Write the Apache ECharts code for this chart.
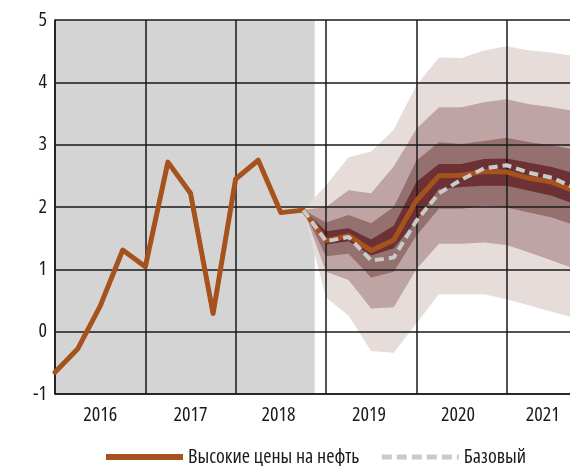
<!DOCTYPE html>
<html>
<head>
<meta charset="utf-8">
<script src="https://cdn.jsdelivr.net/npm/echarts@6/dist/echarts.min.js"></script>
<style>
  html, body { margin: 0; padding: 0; background: #fff; overflow: hidden; }
  /* chart is a bit wider than the window: the last year is cut off like in the original */
  #chart { width: 600px; height: 466px; }
</style>
</head>
<body>
<div id="chart"></div>
<script>
// years on the x axis (4 quarters each)
const years = ['2016', '2017', '2018', '2019', '2020', '2021'];

// actual data, 2016Q1 .. 2018Q4
const actual = [-0.65, -0.28, 0.41, 1.31, 1.04, 2.72, 2.22, 0.29, 2.45, 2.75, 1.91, 1.95];

// forecasts, starting from the last actual quarter
const highOil = [1.95, 1.46, 1.54, 1.30, 1.47, 2.10, 2.50, 2.51, 2.57, 2.56, 2.46, 2.40, 2.26];
const baseline = [1.95, 1.45, 1.52, 1.14, 1.19, 1.78, 2.22, 2.44, 2.62, 2.67, 2.55, 2.47, 2.31];

// fan chart bands (low / high), same quarters as the forecasts
const outerLo = [1.95, 0.55, 0.26, -0.31, -0.34, 0.13, 0.60, 0.60, 0.60, 0.52, 0.42, 0.32, 0.22];
const outerHi = [1.95, 2.35, 2.80, 2.89, 3.24, 3.95, 4.40, 4.39, 4.51, 4.58, 4.51, 4.48, 4.42];
const wideLo = [1.95, 0.96, 0.83, 0.37, 0.39, 1.00, 1.41, 1.41, 1.43, 1.39, 1.27, 1.14, 1.01];
const wideHi = [1.95, 2.00, 2.27, 2.22, 2.65, 3.25, 3.60, 3.60, 3.68, 3.73, 3.65, 3.60, 3.54];
const midLo = [1.95, 1.21, 1.25, 0.87, 0.96, 1.54, 1.97, 1.97, 2.02, 1.99, 1.91, 1.83, 1.71];
const midHi = [1.95, 1.75, 1.87, 1.74, 2.00, 2.74, 3.04, 3.01, 3.06, 3.11, 3.04, 2.99, 2.92];
const innerLo = [1.95, 1.40, 1.45, 1.22, 1.34, 1.78, 2.29, 2.32, 2.34, 2.34, 2.26, 2.18, 2.05];
const innerHi = [1.95, 1.61, 1.66, 1.48, 1.70, 2.40, 2.69, 2.69, 2.77, 2.78, 2.71, 2.64, 2.54];

const forecastStart = actual.length - 1;
const font = '"Open Sans", sans-serif';
const textColor = '#1a1a1a';

const toPoints = (arr, offset) => arr.map((v, i) => [i + offset, v]);

const bands = [
  { lo: outerLo, hi: outerHi, color: '#e6dcd9' },
  { lo: wideLo, hi: wideHi, color: '#bea4a4' },
  { lo: midLo, hi: midHi, color: '#94706f' },
  { lo: innerLo, hi: innerHi, color: '#6b3135' }
];

// year labels sit in the middle of each year (last one in the visible part)
const labelAt = [2, 6, 9.9, 13.9, 17.85, 21.6];

const chart = echarts.init(document.getElementById('chart'));

chart.setOption({
  animation: false,
  grid: { left: 55, top: 20, right: 3, bottom: 72 },
  xAxis: {
    type: 'value',
    min: 0,
    max: 24,
    interval: 4,
    z: 3,
    axisLine: { show: true, onZero: false, lineStyle: { color: textColor, width: 1.5 } },
    axisTick: { show: false },
    splitLine: { show: true, lineStyle: { color: textColor, width: 1.5 } },
    axisLabel: {
      customValues: labelAt,
      margin: 11,
      fontFamily: font,
      fontStyle: 'condensed',
      fontSize: 20,
      color: textColor,
      formatter: (v) => years[Math.floor(v / 4)]
    }
  },
  yAxis: {
    type: 'value',
    min: -1,
    max: 5,
    interval: 1,
    z: 3,
    axisLine: { show: true, lineStyle: { color: textColor, width: 1.5 } },
    axisTick: { show: false },
    splitLine: { show: true, lineStyle: { color: textColor, width: 1.5 } },
    axisLabel: { margin: 8, fontFamily: font, fontStyle: 'condensed', fontSize: 20, color: textColor }
  },
  legend: {
    left: 103,
    top: 447,
    padding: 0,
    itemWidth: 77,
    itemHeight: 8,
    itemGap: 20,
    textStyle: { fontFamily: font, fontStyle: 'condensed', fontSize: 20, color: textColor },
    lineStyle: { width: 5, cap: 'butt' },
    itemStyle: { opacity: 0 },
    data: [
      { name: 'Высокие цены на нефть', lineStyle: { width: 6, cap: 'butt' } },
      { name: 'Базовый', lineStyle: { width: 5, type: [10, 5], cap: 'butt' } }
    ]
  },
  series: [
    {
      type: 'line',
      name: 'history-bg',
      silent: true,
      z: 1,
      data: [],
      markArea: {
        silent: true,
        itemStyle: { color: '#d4d4d4' },
        data: [[{ xAxis: 0 }, { xAxis: forecastStart + 0.5 }]]
      }
    },
    {
      type: 'custom',
      name: 'fan',
      silent: true,
      z: 2,
      data: bands.map((b) => [forecastStart, b.hi[0]]),
      renderItem: (params, api) => {
        const b = bands[params.dataIndex];
        const pts = [];
        b.hi.forEach((v, i) => pts.push(api.coord([i + forecastStart, v])));
        for (let i = b.lo.length - 1; i >= 0; i--) {
          pts.push(api.coord([i + forecastStart, b.lo[i]]));
        }
        return { type: 'polygon', shape: { points: pts }, style: { fill: b.color } };
      }
    },
    {
      type: 'line',
      name: 'Высокие цены на нефть',
      symbol: 'none',
      z: 4,
      lineStyle: { color: '#a5521d', width: 5, join: 'round', cap: 'round' },
      itemStyle: { color: '#a5521d' },
      data: toPoints(actual, 0).concat(toPoints(highOil.slice(1), forecastStart + 1))
    },
    {
      type: 'line',
      name: 'Базовый',
      symbol: 'none',
      z: 5,
      lineStyle: { color: '#cacaca', width: 4, type: [9, 5] },
      itemStyle: { color: '#cacaca' },
      data: toPoints(baseline, forecastStart)
    }
  ]
});
</script>
</body>
</html>
